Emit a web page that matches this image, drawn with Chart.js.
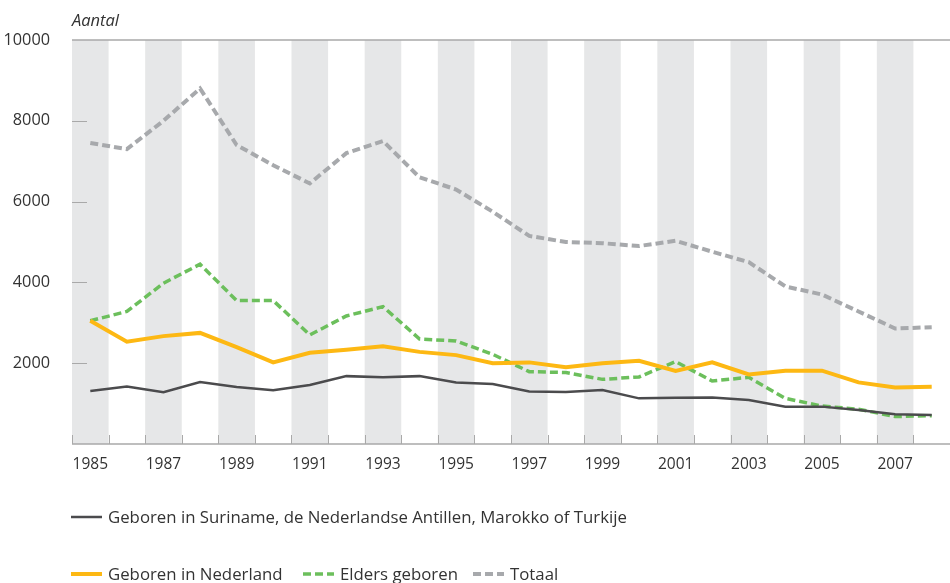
<!DOCTYPE html>
<html>
<head>
<meta charset="utf-8">
<script src="https://cdn.jsdelivr.net/npm/chart.js@4.4.1/dist/chart.umd.min.js"></script>
<style>
  html, body { margin: 0; padding: 0; background: #fff; }
  #wrap { width: 950px; height: 583px; position: relative; }
</style>
</head>
<body>
<div id="wrap"><canvas id="chart"></canvas></div>
<script>
// ── Data ────────────────────────────────────────────────────────────────────
const YEARS     = ['1985','1986','1987','1988','1989','1990','1991','1992','1993','1994','1995','1996',
                   '1997','1998','1999','2000','2001','2002','2003','2004','2005','2006','2007','2008'];
const SURINAME  = [1310,1420,1280,1535,1410,1330,1460,1680,1650,1680,1525,1485,1300,1285,1335,1130,1145,1150,1090,925,925,840,735,720];
const NEDERLAND = [3050,2530,2670,2750,2400,2020,2260,2330,2420,2280,2200,2000,2020,1900,2000,2060,1810,2020,1720,1815,1815,1525,1400,1420];
const ELDERS    = [3050,3280,3980,4450,3550,3550,2700,3170,3400,2600,2550,2220,1790,1770,1600,1660,2040,1560,1650,1130,940,860,680,700];
const TOTAAL    = [7450,7300,8000,8800,7400,6900,6450,7200,7500,6600,6300,5750,5150,5000,4970,4900,5030,4760,4500,3900,3700,3280,2860,2890];
const Y_TICKS   = [2000, 4000, 6000, 8000, 10000];

const FONT = '"Open Sans", "DejaVu Sans", sans-serif';
const TEXT = '#333333';
const BAND = '#e6e7e8';
const RULE = '#a9a9a9';

// ── Bands, axis lines, tick marks, title and legend ─────────────────────────
const frame = {
  id: 'frame',
  beforeDatasetsDraw(chart) {
    const { ctx, chartArea: a, scales: { x, y } } = chart;
    const step = x.getPixelForValue(1) - x.getPixelForValue(0);
    ctx.save();
    ctx.fillStyle = BAND;
    YEARS.forEach((yr, i) => {
      if (i % 2 !== 0) return;
      const cx = x.getPixelForValue(i);
      ctx.fillRect(cx - step / 2, a.top, step, a.bottom - a.top);
    });

    ctx.strokeStyle = RULE;
    ctx.lineWidth = 1.5;
    ctx.beginPath();
    ctx.moveTo(a.left, y.getPixelForValue(10000));
    ctx.lineTo(a.right, y.getPixelForValue(10000));
    ctx.moveTo(a.left, a.bottom);
    ctx.lineTo(a.right, a.bottom);
    ctx.stroke();

    ctx.lineWidth = 1;
    ctx.beginPath();
    Y_TICKS.slice(0, -1).forEach(v => {
      const py = Math.round(y.getPixelForValue(v)) + 0.5;
      ctx.moveTo(a.left, py);
      ctx.lineTo(a.left + 15, py);
    });
    YEARS.forEach((yr, i) => {
      const px = Math.round(x.getPixelForValue(i) - step / 2) + 0.5;
      ctx.moveTo(px, a.bottom);
      ctx.lineTo(px, a.bottom - 9);
    });
    ctx.stroke();
    ctx.restore();
  },
  afterDraw(chart) {
    const { ctx, chartArea: a } = chart;
    ctx.save();
    ctx.fillStyle = TEXT;
    ctx.textBaseline = 'alphabetic';
    ctx.font = `italic 16.5px ${FONT}`;
    ctx.fillText('Aantal', a.left, 26);

    const items = [
      { ds: 0, x: 71,  y: 517 },
      { ds: 1, x: 71,  y: 574 },
      { ds: 2, x: 303, y: 574 },
      { ds: 3, x: 473, y: 574 }
    ];
    ctx.font = `16.8px ${FONT}`;
    items.forEach(it => {
      const d = chart.data.datasets[it.ds];
      ctx.strokeStyle = d.borderColor;
      ctx.lineWidth = d.borderWidth;
      ctx.setLineDash(d.borderDash || []);
      ctx.beginPath();
      ctx.moveTo(it.x, it.y);
      ctx.lineTo(it.x + 31, it.y);
      ctx.stroke();
      ctx.setLineDash([]);
      ctx.fillStyle = TEXT;
      ctx.fillText(d.label, it.x + 37, it.y + 6);
    });
    ctx.restore();
  }
};

// ── Chart ───────────────────────────────────────────────────────────────────
new Chart(document.getElementById('chart'), {
  type: 'line',
  data: {
    labels: YEARS,
    datasets: [
      { label: 'Geboren in Suriname, de Nederlandse Antillen, Marokko of Turkije', data: SURINAME,
        borderColor: '#4b4b4d', borderWidth: 2.5 },
      { label: 'Geboren in Nederland', data: NEDERLAND, borderColor: '#fdb813', borderWidth: 4 },
      { label: 'Elders geboren', data: ELDERS, borderColor: '#6cbf5c', borderWidth: 3.5, borderDash: [8, 4] },
      { label: 'Totaal', data: TOTAAL, borderColor: '#a7a9ac', borderWidth: 4, borderDash: [8, 4] }
    ]
  },
  options: {
    responsive: true,
    maintainAspectRatio: false,
    animation: false,
    layout: { padding: { top: 40, right: 0, left: 0, bottom: 93 } },
    elements: { point: { radius: 0 }, line: { tension: 0, fill: false, borderCapStyle: 'butt' } },
    plugins: { legend: { display: false }, tooltip: { enabled: false } },
    scales: {
      x: {
        offset: true,
        grid: { display: false },
        border: { display: false },
        ticks: {
          autoSkip: false, maxRotation: 0, padding: 3,
          color: TEXT, font: { family: FONT, size: 15.5 },
          callback(v, i) { return i % 2 === 0 ? YEARS[i] : ''; }
        },
        afterFit(s) { s.height = 46; }
      },
      y: {
        min: 0, max: 10000,
        grid: { display: false },
        border: { display: false },
        afterBuildTicks(s) { s.ticks = Y_TICKS.map(v => ({ value: v })); },
        ticks: {
          padding: 14, color: TEXT, font: { family: FONT, size: 16.3 },
          callback: v => String(v)
        },
        afterFit(s) { s.width = 72; }
      }
    }
  },
  plugins: [frame]
});
</script>
</body>
</html>
